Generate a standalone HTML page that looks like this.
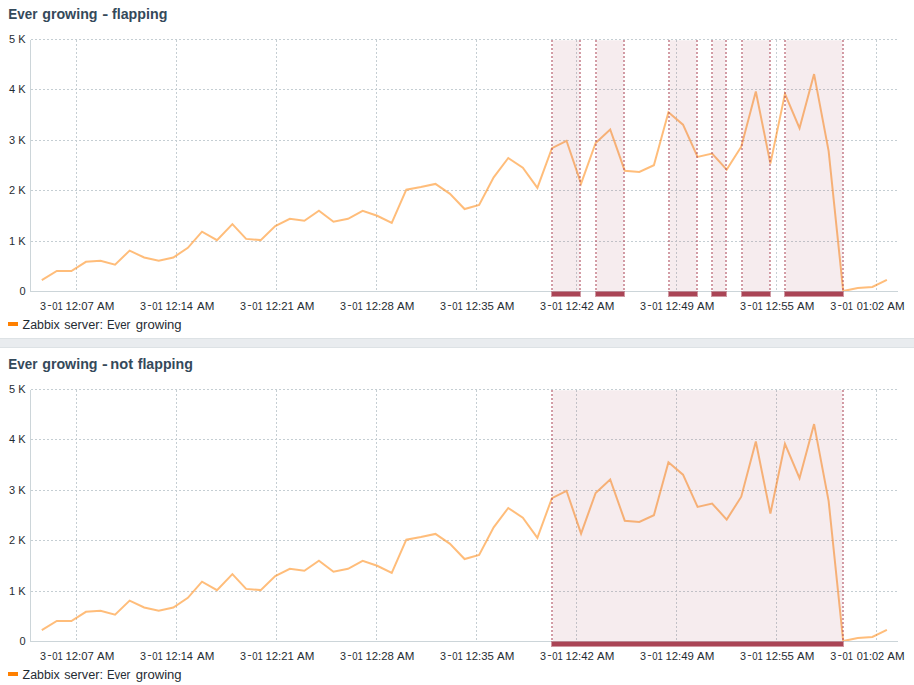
<!DOCTYPE html>
<html><head><meta charset="utf-8"><style>
html,body{margin:0;padding:0;background:#fff;width:914px;height:685px;overflow:hidden}
svg{display:block}
text{font-family:"Liberation Sans",sans-serif;fill:#1f2c33}
.title{font-size:14px;font-weight:bold;fill:#34495a}
.yl{font-size:11px;text-anchor:end}
.xl{font-size:11px}
.leg{font-size:12px}
.grid{stroke:#c5ced3;stroke-width:1;stroke-dasharray:2 2;shape-rendering:crispEdges}
.axis{stroke:#ccd5d9;stroke-width:1;shape-rendering:crispEdges}
.ser{fill:none;stroke:#ff8000;stroke-opacity:0.52;stroke-width:2;stroke-linejoin:miter;stroke-linecap:butt}
.pbox{fill:#aa4455;fill-opacity:0.1}
.pline{stroke:#aa4455;stroke-opacity:0.52;stroke-width:2;stroke-dasharray:2 2;shape-rendering:crispEdges}
.pbar{fill:#aa4455}
</style></head><body>
<svg width="914" height="685" viewBox="0 0 914 685">
<rect x="0" y="338" width="914" height="10" fill="#e9ecef"/><rect x="0" y="338" width="914" height="1" fill="#dde2e5"/><rect x="0" y="347" width="914" height="1" fill="#dde2e5"/>
<text x="8.24" y="19" class="title" textLength="29.15" lengthAdjust="spacingAndGlyphs">Ever</text>
<text x="42.20" y="19" class="title" textLength="55.34" lengthAdjust="spacingAndGlyphs">growing</text>
<text x="102.20" y="19" class="title" textLength="5.96" lengthAdjust="spacingAndGlyphs">-</text>
<text x="112.00" y="19" class="title" textLength="55.34" lengthAdjust="spacingAndGlyphs">flapping</text>
<line x1="31" y1="39.5" x2="898" y2="39.5" class="grid"/>
<line x1="31" y1="89.5" x2="898" y2="89.5" class="grid"/>
<line x1="31" y1="140.5" x2="898" y2="140.5" class="grid"/>
<line x1="31" y1="190.5" x2="898" y2="190.5" class="grid"/>
<line x1="31" y1="241.5" x2="898" y2="241.5" class="grid"/>
<line x1="76.5" y1="40" x2="76.5" y2="291" class="grid"/>
<line x1="176.5" y1="40" x2="176.5" y2="291" class="grid"/>
<line x1="276.5" y1="40" x2="276.5" y2="291" class="grid"/>
<line x1="376.5" y1="40" x2="376.5" y2="291" class="grid"/>
<line x1="476.5" y1="40" x2="476.5" y2="291" class="grid"/>
<line x1="576.5" y1="40" x2="576.5" y2="291" class="grid"/>
<line x1="676.5" y1="40" x2="676.5" y2="291" class="grid"/>
<line x1="776.5" y1="40" x2="776.5" y2="291" class="grid"/>
<line x1="876.5" y1="40" x2="876.5" y2="291" class="grid"/>
<text x="25.6" y="43.4" class="yl">5 K</text>
<text x="25.6" y="93.4" class="yl">4 K</text>
<text x="25.6" y="144.4" class="yl">3 K</text>
<text x="25.6" y="194.4" class="yl">2 K</text>
<text x="25.6" y="245.4" class="yl">1 K</text>
<text x="25.6" y="295.4" class="yl">0</text>
<text x="40.00" y="310" class="xl" textLength="6.02" lengthAdjust="spacingAndGlyphs">3</text>
<text x="47.20" y="308" class="xl" textLength="4.53" lengthAdjust="spacingAndGlyphs">-</text>
<text x="52.20" y="310" class="xl" textLength="10.62" lengthAdjust="spacingAndGlyphs">01</text>
<text x="65.47" y="310" class="xl" textLength="28.38" lengthAdjust="spacingAndGlyphs">12:07</text>
<text x="97.00" y="310" class="xl" textLength="17.32" lengthAdjust="spacingAndGlyphs">AM</text>
<text x="140.00" y="310" class="xl" textLength="6.02" lengthAdjust="spacingAndGlyphs">3</text>
<text x="147.20" y="308" class="xl" textLength="4.53" lengthAdjust="spacingAndGlyphs">-</text>
<text x="152.20" y="310" class="xl" textLength="10.62" lengthAdjust="spacingAndGlyphs">01</text>
<text x="165.51" y="310" class="xl" textLength="27.33" lengthAdjust="spacingAndGlyphs">12:14</text>
<text x="197.00" y="310" class="xl" textLength="17.33" lengthAdjust="spacingAndGlyphs">AM</text>
<text x="240.00" y="310" class="xl" textLength="6.02" lengthAdjust="spacingAndGlyphs">3</text>
<text x="247.20" y="308" class="xl" textLength="4.53" lengthAdjust="spacingAndGlyphs">-</text>
<text x="252.20" y="310" class="xl" textLength="10.62" lengthAdjust="spacingAndGlyphs">01</text>
<text x="265.47" y="310" class="xl" textLength="28.38" lengthAdjust="spacingAndGlyphs">12:21</text>
<text x="297.00" y="310" class="xl" textLength="17.33" lengthAdjust="spacingAndGlyphs">AM</text>
<text x="340.00" y="310" class="xl" textLength="6.02" lengthAdjust="spacingAndGlyphs">3</text>
<text x="347.20" y="308" class="xl" textLength="4.53" lengthAdjust="spacingAndGlyphs">-</text>
<text x="352.20" y="310" class="xl" textLength="10.62" lengthAdjust="spacingAndGlyphs">01</text>
<text x="365.47" y="310" class="xl" textLength="28.38" lengthAdjust="spacingAndGlyphs">12:28</text>
<text x="397.00" y="310" class="xl" textLength="17.33" lengthAdjust="spacingAndGlyphs">AM</text>
<text x="440.00" y="310" class="xl" textLength="6.02" lengthAdjust="spacingAndGlyphs">3</text>
<text x="447.20" y="308" class="xl" textLength="4.53" lengthAdjust="spacingAndGlyphs">-</text>
<text x="452.20" y="310" class="xl" textLength="10.62" lengthAdjust="spacingAndGlyphs">01</text>
<text x="465.47" y="310" class="xl" textLength="28.38" lengthAdjust="spacingAndGlyphs">12:35</text>
<text x="497.00" y="310" class="xl" textLength="17.32" lengthAdjust="spacingAndGlyphs">AM</text>
<text x="540.00" y="310" class="xl" textLength="6.02" lengthAdjust="spacingAndGlyphs">3</text>
<text x="547.20" y="308" class="xl" textLength="4.53" lengthAdjust="spacingAndGlyphs">-</text>
<text x="552.20" y="310" class="xl" textLength="10.62" lengthAdjust="spacingAndGlyphs">01</text>
<text x="565.47" y="310" class="xl" textLength="28.38" lengthAdjust="spacingAndGlyphs">12:42</text>
<text x="597.00" y="310" class="xl" textLength="17.32" lengthAdjust="spacingAndGlyphs">AM</text>
<text x="640.00" y="310" class="xl" textLength="6.02" lengthAdjust="spacingAndGlyphs">3</text>
<text x="647.20" y="308" class="xl" textLength="4.53" lengthAdjust="spacingAndGlyphs">-</text>
<text x="652.20" y="310" class="xl" textLength="10.62" lengthAdjust="spacingAndGlyphs">01</text>
<text x="665.47" y="310" class="xl" textLength="28.38" lengthAdjust="spacingAndGlyphs">12:49</text>
<text x="697.00" y="310" class="xl" textLength="17.32" lengthAdjust="spacingAndGlyphs">AM</text>
<text x="740.00" y="310" class="xl" textLength="6.02" lengthAdjust="spacingAndGlyphs">3</text>
<text x="747.20" y="308" class="xl" textLength="4.53" lengthAdjust="spacingAndGlyphs">-</text>
<text x="752.20" y="310" class="xl" textLength="10.62" lengthAdjust="spacingAndGlyphs">01</text>
<text x="765.47" y="310" class="xl" textLength="28.38" lengthAdjust="spacingAndGlyphs">12:55</text>
<text x="797.00" y="310" class="xl" textLength="17.32" lengthAdjust="spacingAndGlyphs">AM</text>
<text x="830.30" y="310" class="xl" textLength="6.02" lengthAdjust="spacingAndGlyphs">3</text>
<text x="837.50" y="308" class="xl" textLength="4.53" lengthAdjust="spacingAndGlyphs">-</text>
<text x="842.50" y="310" class="xl" textLength="10.62" lengthAdjust="spacingAndGlyphs">01</text>
<text x="856.80" y="310" class="xl" textLength="27.33" lengthAdjust="spacingAndGlyphs">01:02</text>
<text x="887.30" y="310" class="xl" textLength="17.32" lengthAdjust="spacingAndGlyphs">AM</text>
<polyline points="41.80,280.10 56.80,271.00 71.37,271.00 85.93,261.80 100.49,260.80 115.06,264.70 129.62,250.60 144.18,257.50 158.74,260.70 173.31,257.50 187.87,247.80 202.00,231.70 217.00,240.20 232.40,224.10 246.12,238.90 260.69,240.10 275.25,226.10 289.81,218.80 304.37,220.80 318.94,210.80 333.50,221.70 348.06,218.80 362.63,210.80 377.19,215.80 391.75,222.80 406.31,189.70 420.88,187.10 435.44,183.90 450.00,193.80 464.57,209.00 479.13,204.90 493.69,177.30 508.26,158.00 522.82,167.70 537.38,187.80 551.95,148.10 566.51,140.80 581.07,183.60 595.63,143.00 610.20,129.50 624.76,170.70 639.32,171.90 653.89,165.20 668.45,112.20 683.01,124.70 697.58,156.90 712.14,153.50 726.70,169.60 741.26,146.70 755.83,91.50 770.39,163.60 784.95,93.80 799.52,128.20 814.08,74.10 828.64,151.10 843.21,291.00 857.77,288.00 872.33,287.00 886.89,279.90" transform="translate(0,0)" class="ser"/>
<rect x="552.9" y="40.25" width="26.5" height="250.75" class="pbox"/>
<line x1="552" y1="40" x2="552" y2="291" class="pline"/>
<line x1="580" y1="40" x2="580" y2="291" class="pline"/>
<rect x="596.9" y="40.25" width="26.5" height="250.75" class="pbox"/>
<line x1="596" y1="40" x2="596" y2="291" class="pline"/>
<line x1="624" y1="40" x2="624" y2="291" class="pline"/>
<rect x="669.9" y="40.25" width="26.5" height="250.75" class="pbox"/>
<line x1="669" y1="40" x2="669" y2="291" class="pline"/>
<line x1="697" y1="40" x2="697" y2="291" class="pline"/>
<rect x="712.9" y="40.25" width="12.5" height="250.75" class="pbox"/>
<line x1="712" y1="40" x2="712" y2="291" class="pline"/>
<line x1="726" y1="40" x2="726" y2="291" class="pline"/>
<rect x="742.9" y="40.25" width="26.5" height="250.75" class="pbox"/>
<line x1="742" y1="40" x2="742" y2="291" class="pline"/>
<line x1="770" y1="40" x2="770" y2="291" class="pline"/>
<rect x="785.9" y="40.25" width="56.5" height="250.75" class="pbox"/>
<line x1="785" y1="40" x2="785" y2="291" class="pline"/>
<line x1="843" y1="40" x2="843" y2="291" class="pline"/>
<line x1="30.5" y1="40" x2="30.5" y2="292" class="axis"/>
<line x1="30" y1="291.5" x2="898" y2="291.5" class="axis"/>
<rect x="552" y="292" width="28" height="4" fill="#aa4455"/>
<rect x="551.5" y="291.5" width="29" height="5" fill="none" stroke="#aa4455" stroke-opacity="0.55" stroke-width="1"/>
<rect x="596" y="292" width="28" height="4" fill="#aa4455"/>
<rect x="595.5" y="291.5" width="29" height="5" fill="none" stroke="#aa4455" stroke-opacity="0.55" stroke-width="1"/>
<rect x="669" y="292" width="28" height="4" fill="#aa4455"/>
<rect x="668.5" y="291.5" width="29" height="5" fill="none" stroke="#aa4455" stroke-opacity="0.55" stroke-width="1"/>
<rect x="712" y="292" width="14" height="4" fill="#aa4455"/>
<rect x="711.5" y="291.5" width="15" height="5" fill="none" stroke="#aa4455" stroke-opacity="0.55" stroke-width="1"/>
<rect x="742" y="292" width="28" height="4" fill="#aa4455"/>
<rect x="741.5" y="291.5" width="29" height="5" fill="none" stroke="#aa4455" stroke-opacity="0.55" stroke-width="1"/>
<rect x="785" y="292" width="58" height="4" fill="#aa4455"/>
<rect x="784.5" y="291.5" width="59" height="5" fill="none" stroke="#aa4455" stroke-opacity="0.55" stroke-width="1"/>
<rect x="8" y="322" width="10" height="4" fill="#ff8000"/>
<text x="22.60" y="329" class="leg" textLength="37.23" lengthAdjust="spacingAndGlyphs">Zabbix</text>
<text x="64.20" y="329" class="leg" textLength="38.83" lengthAdjust="spacingAndGlyphs">server:</text>
<text x="106.95" y="329" class="leg" textLength="23.45" lengthAdjust="spacingAndGlyphs">Ever</text>
<text x="135.80" y="329" class="leg" textLength="45.82" lengthAdjust="spacingAndGlyphs">growing</text>
<text x="8.24" y="369" class="title" textLength="29.15" lengthAdjust="spacingAndGlyphs">Ever</text>
<text x="42.20" y="369" class="title" textLength="55.34" lengthAdjust="spacingAndGlyphs">growing</text>
<text x="102.10" y="369" class="title" textLength="5.72" lengthAdjust="spacingAndGlyphs">-</text>
<text x="110.36" y="369" class="title" textLength="22.70" lengthAdjust="spacingAndGlyphs">not</text>
<text x="137.70" y="369" class="title" textLength="55.14" lengthAdjust="spacingAndGlyphs">flapping</text>
<line x1="31" y1="389.5" x2="898" y2="389.5" class="grid"/>
<line x1="31" y1="439.5" x2="898" y2="439.5" class="grid"/>
<line x1="31" y1="490.5" x2="898" y2="490.5" class="grid"/>
<line x1="31" y1="540.5" x2="898" y2="540.5" class="grid"/>
<line x1="31" y1="591.5" x2="898" y2="591.5" class="grid"/>
<line x1="76.5" y1="390" x2="76.5" y2="641" class="grid"/>
<line x1="176.5" y1="390" x2="176.5" y2="641" class="grid"/>
<line x1="276.5" y1="390" x2="276.5" y2="641" class="grid"/>
<line x1="376.5" y1="390" x2="376.5" y2="641" class="grid"/>
<line x1="476.5" y1="390" x2="476.5" y2="641" class="grid"/>
<line x1="576.5" y1="390" x2="576.5" y2="641" class="grid"/>
<line x1="676.5" y1="390" x2="676.5" y2="641" class="grid"/>
<line x1="776.5" y1="390" x2="776.5" y2="641" class="grid"/>
<line x1="876.5" y1="390" x2="876.5" y2="641" class="grid"/>
<text x="25.6" y="393.4" class="yl">5 K</text>
<text x="25.6" y="443.4" class="yl">4 K</text>
<text x="25.6" y="494.4" class="yl">3 K</text>
<text x="25.6" y="544.4" class="yl">2 K</text>
<text x="25.6" y="595.4" class="yl">1 K</text>
<text x="25.6" y="645.4" class="yl">0</text>
<text x="40.00" y="660" class="xl" textLength="6.02" lengthAdjust="spacingAndGlyphs">3</text>
<text x="47.20" y="658" class="xl" textLength="4.53" lengthAdjust="spacingAndGlyphs">-</text>
<text x="52.20" y="660" class="xl" textLength="10.62" lengthAdjust="spacingAndGlyphs">01</text>
<text x="65.47" y="660" class="xl" textLength="28.38" lengthAdjust="spacingAndGlyphs">12:07</text>
<text x="97.00" y="660" class="xl" textLength="17.32" lengthAdjust="spacingAndGlyphs">AM</text>
<text x="140.00" y="660" class="xl" textLength="6.02" lengthAdjust="spacingAndGlyphs">3</text>
<text x="147.20" y="658" class="xl" textLength="4.53" lengthAdjust="spacingAndGlyphs">-</text>
<text x="152.20" y="660" class="xl" textLength="10.62" lengthAdjust="spacingAndGlyphs">01</text>
<text x="165.51" y="660" class="xl" textLength="27.33" lengthAdjust="spacingAndGlyphs">12:14</text>
<text x="197.00" y="660" class="xl" textLength="17.33" lengthAdjust="spacingAndGlyphs">AM</text>
<text x="240.00" y="660" class="xl" textLength="6.02" lengthAdjust="spacingAndGlyphs">3</text>
<text x="247.20" y="658" class="xl" textLength="4.53" lengthAdjust="spacingAndGlyphs">-</text>
<text x="252.20" y="660" class="xl" textLength="10.62" lengthAdjust="spacingAndGlyphs">01</text>
<text x="265.47" y="660" class="xl" textLength="28.38" lengthAdjust="spacingAndGlyphs">12:21</text>
<text x="297.00" y="660" class="xl" textLength="17.33" lengthAdjust="spacingAndGlyphs">AM</text>
<text x="340.00" y="660" class="xl" textLength="6.02" lengthAdjust="spacingAndGlyphs">3</text>
<text x="347.20" y="658" class="xl" textLength="4.53" lengthAdjust="spacingAndGlyphs">-</text>
<text x="352.20" y="660" class="xl" textLength="10.62" lengthAdjust="spacingAndGlyphs">01</text>
<text x="365.47" y="660" class="xl" textLength="28.38" lengthAdjust="spacingAndGlyphs">12:28</text>
<text x="397.00" y="660" class="xl" textLength="17.33" lengthAdjust="spacingAndGlyphs">AM</text>
<text x="440.00" y="660" class="xl" textLength="6.02" lengthAdjust="spacingAndGlyphs">3</text>
<text x="447.20" y="658" class="xl" textLength="4.53" lengthAdjust="spacingAndGlyphs">-</text>
<text x="452.20" y="660" class="xl" textLength="10.62" lengthAdjust="spacingAndGlyphs">01</text>
<text x="465.47" y="660" class="xl" textLength="28.38" lengthAdjust="spacingAndGlyphs">12:35</text>
<text x="497.00" y="660" class="xl" textLength="17.32" lengthAdjust="spacingAndGlyphs">AM</text>
<text x="540.00" y="660" class="xl" textLength="6.02" lengthAdjust="spacingAndGlyphs">3</text>
<text x="547.20" y="658" class="xl" textLength="4.53" lengthAdjust="spacingAndGlyphs">-</text>
<text x="552.20" y="660" class="xl" textLength="10.62" lengthAdjust="spacingAndGlyphs">01</text>
<text x="565.47" y="660" class="xl" textLength="28.38" lengthAdjust="spacingAndGlyphs">12:42</text>
<text x="597.00" y="660" class="xl" textLength="17.32" lengthAdjust="spacingAndGlyphs">AM</text>
<text x="640.00" y="660" class="xl" textLength="6.02" lengthAdjust="spacingAndGlyphs">3</text>
<text x="647.20" y="658" class="xl" textLength="4.53" lengthAdjust="spacingAndGlyphs">-</text>
<text x="652.20" y="660" class="xl" textLength="10.62" lengthAdjust="spacingAndGlyphs">01</text>
<text x="665.47" y="660" class="xl" textLength="28.38" lengthAdjust="spacingAndGlyphs">12:49</text>
<text x="697.00" y="660" class="xl" textLength="17.32" lengthAdjust="spacingAndGlyphs">AM</text>
<text x="740.00" y="660" class="xl" textLength="6.02" lengthAdjust="spacingAndGlyphs">3</text>
<text x="747.20" y="658" class="xl" textLength="4.53" lengthAdjust="spacingAndGlyphs">-</text>
<text x="752.20" y="660" class="xl" textLength="10.62" lengthAdjust="spacingAndGlyphs">01</text>
<text x="765.47" y="660" class="xl" textLength="28.38" lengthAdjust="spacingAndGlyphs">12:55</text>
<text x="797.00" y="660" class="xl" textLength="17.32" lengthAdjust="spacingAndGlyphs">AM</text>
<text x="830.30" y="660" class="xl" textLength="6.02" lengthAdjust="spacingAndGlyphs">3</text>
<text x="837.50" y="658" class="xl" textLength="4.53" lengthAdjust="spacingAndGlyphs">-</text>
<text x="842.50" y="660" class="xl" textLength="10.62" lengthAdjust="spacingAndGlyphs">01</text>
<text x="856.80" y="660" class="xl" textLength="27.33" lengthAdjust="spacingAndGlyphs">01:02</text>
<text x="887.30" y="660" class="xl" textLength="17.32" lengthAdjust="spacingAndGlyphs">AM</text>
<polyline points="41.80,280.10 56.80,271.00 71.37,271.00 85.93,261.80 100.49,260.80 115.06,264.70 129.62,250.60 144.18,257.50 158.74,260.70 173.31,257.50 187.87,247.80 202.00,231.70 217.00,240.20 232.40,224.10 246.12,238.90 260.69,240.10 275.25,226.10 289.81,218.80 304.37,220.80 318.94,210.80 333.50,221.70 348.06,218.80 362.63,210.80 377.19,215.80 391.75,222.80 406.31,189.70 420.88,187.10 435.44,183.90 450.00,193.80 464.57,209.00 479.13,204.90 493.69,177.30 508.26,158.00 522.82,167.70 537.38,187.80 551.95,148.10 566.51,140.80 581.07,183.60 595.63,143.00 610.20,129.50 624.76,170.70 639.32,171.90 653.89,165.20 668.45,112.20 683.01,124.70 697.58,156.90 712.14,153.50 726.70,169.60 741.26,146.70 755.83,91.50 770.39,163.60 784.95,93.80 799.52,128.20 814.08,74.10 828.64,151.10 843.21,291.00 857.77,288.00 872.33,287.00 886.89,279.90" transform="translate(0,350)" class="ser"/>
<rect x="552.9" y="390.25" width="289.5" height="250.75" class="pbox"/>
<line x1="552" y1="390" x2="552" y2="641" class="pline"/>
<line x1="843" y1="390" x2="843" y2="641" class="pline"/>
<line x1="30.5" y1="390" x2="30.5" y2="642" class="axis"/>
<line x1="30" y1="641.5" x2="898" y2="641.5" class="axis"/>
<rect x="552" y="642" width="291" height="4" fill="#aa4455"/>
<rect x="551.5" y="641.5" width="292" height="5" fill="none" stroke="#aa4455" stroke-opacity="0.55" stroke-width="1"/>
<rect x="8" y="672" width="10" height="4" fill="#ff8000"/>
<text x="22.60" y="679" class="leg" textLength="37.23" lengthAdjust="spacingAndGlyphs">Zabbix</text>
<text x="64.20" y="679" class="leg" textLength="38.83" lengthAdjust="spacingAndGlyphs">server:</text>
<text x="106.95" y="679" class="leg" textLength="23.45" lengthAdjust="spacingAndGlyphs">Ever</text>
<text x="135.80" y="679" class="leg" textLength="45.82" lengthAdjust="spacingAndGlyphs">growing</text>
</svg>
</body></html>
